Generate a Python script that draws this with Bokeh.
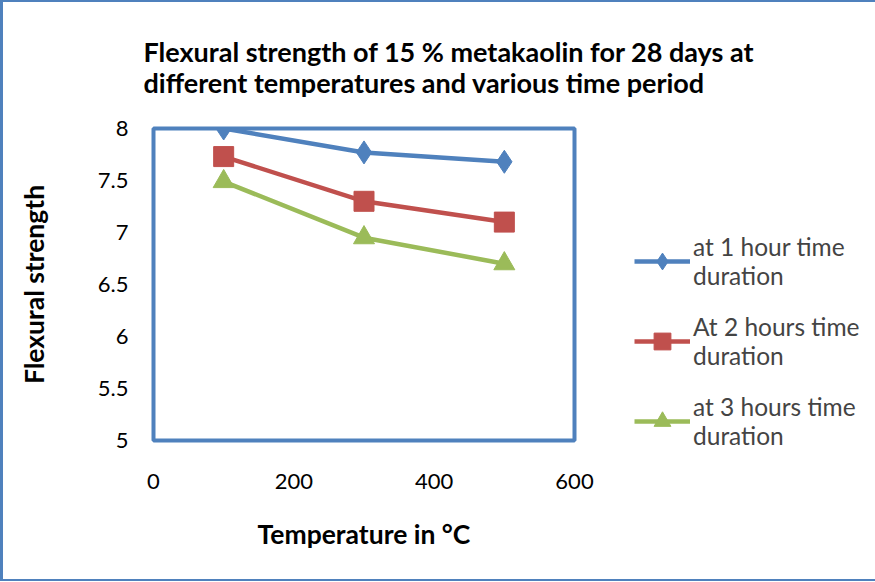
from bokeh.plotting import figure
from bokeh.models import Legend, LegendItem, NumeralTickFormatter, FixedTicker, Range1d
from bokeh.embed import file_html
from bokeh.resources import INLINE

temperatures = [100, 300, 500]
hour1 = [8.0, 7.77, 7.68]
hour2 = [7.73, 7.30, 7.10]
hour3 = [7.49, 6.95, 6.70]
series_names = ["at 1 hour time\nduration", "At 2 hours time\nduration", "at 3 hours time\nduration"]
x_ticks = [0, 200, 400, 600]
y_ticks = [5, 5.5, 6, 6.5, 7, 7.5, 8]
title_text = ("Flexural strength of 15 % metakaolin for 28 days at\n"
              "different temperatures and various time period")

BLUE = "#4F81BD"
RED = "#C0504D"
GREEN = "#9BBB59"
FONT = "Lato"

p = figure(frame_width=421, frame_height=312, output_backend="svg", toolbar_location=None,
           x_range=Range1d(0, 600), y_range=Range1d(5, 8),
           min_border_left=150, min_border_right=285, min_border_top=126, min_border_bottom=139)
p.styles = {"border-left": "3px solid #4F81BD", "border-top": "2px solid #4F81BD",
            "border-bottom": "2px solid #4F81BD", "border-right": "0px solid white"}

p.grid.visible = False
p.outline_line_color = BLUE
p.outline_line_width = 4
p.background_fill_color = "white"
p.border_fill_color = "white"

p.title.text = title_text
p.title.align = "left"
p.title.offset = -10
p.title.vertical_align = "top"
p.title.standoff = 54
p.title.text_font = FONT
p.title.text_font_style = "bold"
p.title.text_font_size = "27px"
p.title.text_line_height = 0.96
p.title.text_color = "black"

for ax in (p.xaxis[0], p.yaxis[0]):
    ax.axis_line_color = None
    ax.major_tick_line_color = None
    ax.minor_tick_line_color = None
    ax.major_label_text_font = FONT
    ax.major_label_text_font_size = "22px"
    ax.major_label_text_color = "black"
    ax.axis_label_text_font = FONT
    ax.axis_label_text_font_style = "bold"
    ax.axis_label_text_font_size = "26.5px"
    ax.axis_label_text_color = "black"

p.xaxis.ticker = FixedTicker(ticks=x_ticks)
p.yaxis.ticker = FixedTicker(ticks=y_ticks)
p.yaxis.formatter = NumeralTickFormatter(format="0.[0]")
p.xaxis.axis_label = "Temperature in °C"
p.yaxis.axis_label = "Flexural strength"
p.xaxis.major_label_standoff = 27
p.xaxis.axis_label_standoff = 26
p.yaxis.major_label_standoff = 19
p.yaxis.axis_label_standoff = 45

lw = 4.5
l1 = p.line(temperatures, hour1, line_color=BLUE, line_width=lw)
m1 = p.scatter(temperatures, hour1, marker="diamond", size=23,
               fill_color=BLUE, line_color=BLUE)
l2 = p.line(temperatures, hour2, line_color=RED, line_width=lw)
m2 = p.scatter(temperatures, hour2, marker="square", size=20, fill_color=RED, line_color=RED)
l3 = p.line(temperatures, hour3, line_color=GREEN, line_width=lw)
m3 = p.scatter(temperatures, hour3, marker="triangle", size=21, fill_color=GREEN, line_color=GREEN)

legend = Legend(items=[LegendItem(label=series_names[0], renderers=[l1, m1]),
                       LegendItem(label=series_names[1], renderers=[l2, m2]),
                       LegendItem(label=series_names[2], renderers=[l3, m3])],
                location=(60, -10))
legend.border_line_color = None
legend.background_fill_alpha = 0
legend.label_text_font = FONT
legend.label_text_font_size = "24.5px"
legend.label_text_line_height = 1.45
legend.glyph_width = 56
legend.glyph_height = 42
legend.label_standoff = 3
legend.spacing = 22
legend.padding = 0
legend.margin = 0
p.add_layout(legend, "right")

open("out.html", "w").write(file_html(p, INLINE))
